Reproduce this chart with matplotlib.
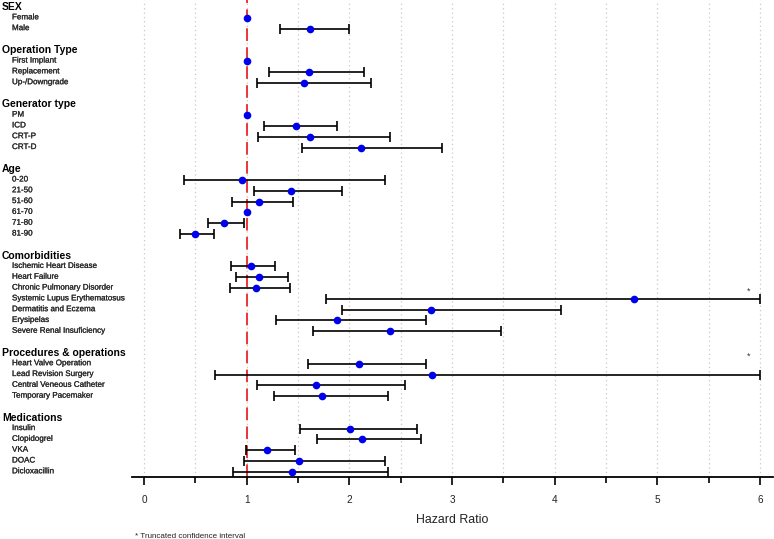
import matplotlib
matplotlib.use("Agg")
import matplotlib.pyplot as plt
import matplotlib.patheffects as pe
import numpy as np
from matplotlib.transforms import blended_transform_factory

plt.rcParams['font.family'] = ['Liberation Sans', 'DejaVu Sans']

nan = np.nan

group_names = ["SEX", "Operation Type", "Generator type", "Age",
               "Comorbidities", "Procedures & operations", "Medications"]
group_sizes = [2, 3, 4, 6, 7, 4, 5]

item_labels = [
    "Female", "Male",
    "First Implant", "Replacement", "Up-/Downgrade",
    "PM", "ICD", "CRT-P", "CRT-D",
    "0-20", "21-50", "51-60", "61-70", "71-80", "81-90",
    "Ischemic Heart Disease", "Heart Failure", "Chronic Pulmonary Disorder",
    "Systemic Lupus Erythematosus", "Dermatitis and Eczema", "Erysipelas",
    "Severe Renal Insuficiency",
    "Heart Valve Operation", "Lead Revision Surgery", "Central Veneous Catheter",
    "Temporary Pacemaker",
    "Insulin", "Clopidogrel", "VKA", "DOAC", "Dicloxacillin",
]

hr = [1.00, 1.62,
      1.00, 1.61, 1.56,
      1.00, 1.48, 1.62, 2.11,
      0.955, 1.43, 1.12, 1.00, 0.78, 0.50,
      1.04, 1.12, 1.09, 4.77, 2.79, 1.88, 2.40,
      2.09, 2.80, 1.67, 1.73,
      2.01, 2.12, 1.20, 1.51, 1.44]

lo = [nan, 1.32,
      nan, 1.22, 1.10,
      nan, 1.17, 1.11, 1.54,
      0.39, 1.07, 0.86, nan, 0.62, 0.35,
      0.85, 0.90, 0.84, 1.77, 1.93, 1.29, 1.65,
      1.60, 0.69, 1.10, 1.27,
      1.52, 1.68, 0.99, 0.97, 0.87]

hi = [nan, 2.00,
      nan, 2.14, 2.21,
      nan, 1.88, 2.40, 2.90,
      2.35, 1.93, 1.45, nan, 0.97, 0.68,
      1.28, 1.40, 1.42, 6.00, 4.06, 2.75, 3.48,
      2.75, 6.00, 2.54, 2.38,
      2.66, 2.70, 1.47, 2.35, 2.38]

# labels that carry the "truncated" asterisk in the figure
star_labels = ["Systemic Lupus Erythematosus", "Heart Valve Operation"]

x_ticks = [0, 1, 2, 3, 4, 5, 6]

# ---- row layout ----
header_rows = []
item_rows = []
r = 0
for n in group_sizes:
    header_rows.append(r)
    item_rows.extend(range(r + 1, r + 1 + n))
    r += n + 2

W, H = 774, 539
fig = plt.figure(figsize=(W / 100, H / 100), dpi=100)
ax = fig.add_axes([132 / W, 1 - 477 / H, (773 - 132) / W, 477 / H])
ax.set_xlim(-0.117, 6.125)
ax.set_ylim(43.48, -0.65)

for s in ["top", "left", "right"]:
    ax.spines[s].set_visible(False)
ax.spines["bottom"].set_linewidth(1.3)
ax.set_yticks([])

ax.set_xticks(x_ticks)
ax.set_xticks(np.arange(0.5, 6, 1.0), minor=True)
ax.tick_params(axis="x", which="major", length=6, width=1.2, pad=7,
               labelsize=7.2, labelcolor="#222222")
ax.tick_params(axis="x", which="minor", length=4.5, width=1.2)
ax.grid(axis="x", which="both", color="#c8c8c8", linestyle=(0, (1, 2.5)), linewidth=0.9)
ax.set_axisbelow(True)

ax.axvline(1, color="#e8282b", linestyle=(0, (7, 3.5)), linewidth=1.3, zorder=2)

hr_a = np.array(hr)
lo_a = np.array(lo)
hi_a = np.array(hi)
y_a = np.array(item_rows, dtype=float)
has_ci = ~np.isnan(lo_a)
ax.errorbar(hr_a[has_ci], y_a[has_ci],
            xerr=[hr_a[has_ci] - lo_a[has_ci], hi_a[has_ci] - hr_a[has_ci]],
            fmt="none", ecolor="black", elinewidth=1.2, capsize=3.5, capthick=1.2,
            zorder=3)
ax.plot(hr_a, y_a, "o", color="#0000ee", markersize=5.5, zorder=4,
        markeredgewidth=0)

thick = [pe.withStroke(linewidth=0.15, foreground="#2a2a2a")]
trans = blended_transform_factory(fig.transFigure, ax.transData)
for name, row in zip(group_names, header_rows):
    ax.text(2 / W, row, name, transform=trans, fontsize=7.5, fontweight="bold",
            ha="left", va="center", clip_on=False, color="black")
for lab, row in zip(item_labels, item_rows):
    ax.text(12 / W, row, lab, transform=trans, fontsize=5.8, ha="left",
            va="center", clip_on=False, color="#2a2a2a", path_effects=thick)

for lab in star_labels:
    row = item_rows[item_labels.index(lab)]
    ax.text(5.89, row - 0.72, "*", fontsize=6.5, ha="center", va="center",
            color="#333333")

fig.text(452 / W, 1 - 520 / H, "Hazard Ratio", fontsize=8.9, ha="center",
         va="center", color="#222222")
fig.text(135 / W, 1 - 536 / H, "* Truncated confidence interval", fontsize=5.8,
         ha="left", va="center", color="#222222")

fig.savefig("out.png", dpi=100)
